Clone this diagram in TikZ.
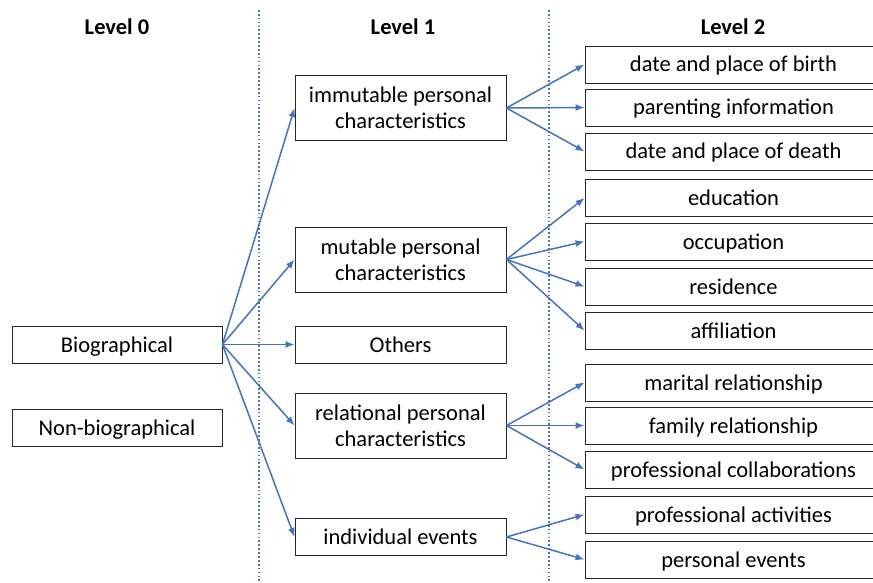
\documentclass[tikz,border=0pt]{standalone}
\usepackage{fontspec}
\setmainfont{Carlito}
\usetikzlibrary{arrows.meta}
\definecolor{lineblue}{RGB}{68,114,196}
\tikzset{
  box/.style={draw=black!85,line width=0.9pt,minimum height=37pt,inner sep=0pt,align=center,text height=19.5pt,text depth=4.5pt},
  twoline/.style={text height=,text depth=,minimum height=65pt},
  lzero/.style={box,minimum width=210pt},
  lone/.style={box,minimum width=211pt},
  ltwo/.style={box,minimum width=297pt},
  link/.style={draw=lineblue,line width=1.5pt,-{Latex[length=9pt,width=7pt]}},
  sep/.style={draw=lineblue,line width=1.7pt,dash pattern=on 1.7pt off 2.2pt}
}
\begin{document}
\begin{tikzpicture}[x=1pt,y=-1pt,font=\fontsize{22.5}{26}\selectfont]
\useasboundingbox(0,0)rectangle(873,583);
\draw[sep](259,10)--(259,583);
\draw[sep](549,10)--(549,583);
\node[font=\fontsize{22.5}{26}\selectfont\bfseries](h0)at(117,27){Level 0};
\node[font=\fontsize{22.5}{26}\selectfont\bfseries](h1)at(403,27){Level 1};
\node[font=\fontsize{22.5}{26}\selectfont\bfseries](h2)at(733,27){Level 2};
% level 0
\node[lzero](bio)at(117,344.5){Biographical};
\node[lzero](nonbio)at(117,427.5){Non-biographical};
% level 1
\node[lone,twoline](imm)at(400.5,108){immutable personal\\characteristics};
\node[lone,twoline](mut)at(400.5,259.5){mutable personal\\characteristics};
\node[lone](oth)at(400.5,344.5){Others};
\node[lone,twoline](rel)at(400.5,425.5){relational personal\\characteristics};
\node[lone](ind)at(400.5,537){individual events};
% level 2 (boxes run past the right edge)
\node[ltwo](birth)at(733.5,64.5){date and place of birth};
\node[ltwo](parent)at(733.5,107.5){parenting information};
\node[ltwo](death)at(733.5,151.5){date and place of death};
\node[ltwo](edu)at(733.5,198){education};
\node[ltwo](occ)at(733.5,241.5){occupation};
\node[ltwo](res)at(733.5,286.5){residence};
\node[ltwo](aff)at(733.5,330.5){affiliation};
\node[ltwo](mar)at(733.5,382.5){marital relationship};
\node[ltwo](fam)at(733.5,425.5){family relationship};
\node[ltwo](coll)at(733.5,469.5){professional collaborations};
\node[ltwo](act)at(733.5,514.5){professional activities};
\node[ltwo](pers)at(733.5,559.5){personal events};
% arrows
\foreach \t in {imm,mut,oth,rel,ind}{\draw[link](bio.east)--(\t.west);}
\foreach \t in {birth,parent,death}{\draw[link](imm.east)--(\t.west);}
\foreach \t in {edu,occ,res,aff}{\draw[link](mut.east)--(\t.west);}
\foreach \t in {mar,fam,coll}{\draw[link](rel.east)--(\t.west);}
\foreach \t in {act,pers}{\draw[link](ind.east)--(\t.west);}
\end{tikzpicture}
\end{document}
